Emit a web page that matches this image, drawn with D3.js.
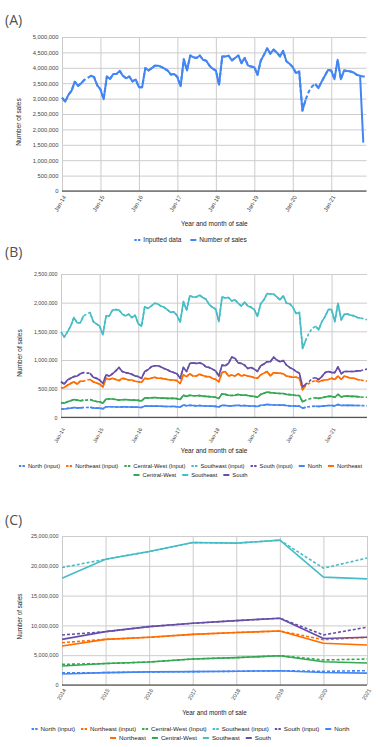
<!DOCTYPE html>
<html>
<head>
<meta charset="utf-8">
<script src="https://cdn.jsdelivr.net/npm/d3@7"></script>
<style>
  body { margin: 0; background: #fff; }
  svg { display: block; font-family: "Liberation Sans", Arial, sans-serif; }
</style>
</head>
<body>
<script>
// ---- data ----
const monthLabels = ["Jan-14", "Jan-15", "Jan-16", "Jan-17", "Jan-18", "Jan-19", "Jan-20", "Jan-21"];
const years = ["2014", "2015", "2016", "2017", "2018", "2019", "2020", "2021"];

// (A) total monthly sales, millions, Jan-14 .. Dec-21 (null = missing month)
const salesA = [
  3.03, 2.90, 3.12, 3.26, 3.55, 3.41, 3.50, 3.61, null, 3.74, 3.70, 3.43,
  3.30, 2.98, 3.72, 3.64, 3.80, 3.80, 3.90, 3.74, 3.66, 3.72, 3.56, 3.62,
  3.37, 3.37, 3.99, 3.91, 3.99, 4.07, 4.07, 4.03, 3.97, 3.91, 3.78, 3.80,
  3.70, 3.40, 4.28, 3.91, 4.40, 4.34, 4.32, 4.40, 4.26, 4.23, 4.07, 3.97,
  3.91, 3.45, 4.37, 4.37, 4.39, 4.24, 4.32, 4.40, 4.15, 4.32, 4.08, 4.04,
  4.02, 3.77, 4.23, 4.42, 4.63, 4.46, 4.59, 4.50, 4.37, 4.55, 4.21, 4.13,
  4.02, 3.83, 3.88, 2.61, 2.96, null, null, 3.48, 3.34, 3.55, 3.74, 3.93,
  3.91, 3.63, 4.26, 3.63, 3.91, 3.90, 3.88, 3.85, 3.77, 3.74, 1.57, null
];
const gapMonthsA = [8, 77, 78, 94, 95];
const inputA = [3.67, 3.23, 3.39, 3.72, 3.71];

// (B) monthly sales by region, thousands
const northB = [
  145, 145, 155, 160, 170, 165, 165, 170, null, 175, 165, 160,
  160, 150, 185, 185, 185, 180, 180, 182, 183, 180, 178, 178,
  175, 170, 198, 195, 195, 198, 195, 193, 190, 188, 188, 190,
  185, 178, 215, 200, 210, 205, 200, 205, 200, 198, 195, 195,
  190, 180, 210, 205, 200, 200, 205, 210, 200, 205, 200, 198,
  195, 188, 210, 215, 225, 220, 215, 215, 212, 212, 205, 200,
  198, 195, 195, 160, 175, null, null, 195, 188, 195, 200, 205,
  205, 200, 225, 205, 210, 208, 208, 207, 205, 205, null, null
];
const northeastB = [
  510, 520, 560, 590, 620, 580, 630, 630, null, 660, 620, 600,
  580, 530, 680, 660, 680, 660, 640, 680, 670, 650, 650, 630,
  620, 610, 680, 670, 680, 700, 680, 680, 670, 660, 650, 650,
  640, 590, 740, 710, 760, 720, 720, 750, 730, 710, 710, 680,
  660, 620, 780, 800, 720, 740, 720, 760, 720, 740, 720, 710,
  690, 680, 740, 770, 800, 720, 780, 770, 770, 760, 720, 710,
  700, 700, 680, 480, 560, null, null, 640, 620, 640, 650, 660,
  680, 660, 720, 660, 720, 700, 680, 680, 660, 650, null, null
];
const centralWestB = [
  256, 245, 270, 290, 310, 300, 290, 300, null, 310, 290, 275,
  270, 245, 320, 320, 320, 310, 300, 305, 310, 305, 300, 300,
  295, 285, 340, 335, 340, 345, 340, 335, 335, 330, 330, 330,
  325, 310, 385, 365, 385, 375, 375, 380, 370, 365, 360, 355,
  350, 330, 410, 400, 385, 380, 385, 400, 385, 390, 380, 370,
  365, 350, 400, 420, 440, 430, 425, 420, 415, 415, 400, 395,
  390, 380, 380, 270, 300, null, null, 340, 330, 340, 355, 365,
  365, 350, 400, 355, 370, 370, 365, 365, 360, 355, null, null
];
const southeastB = [
  1490, 1400, 1490, 1590, 1740, 1650, 1650, 1770, null, 1830, 1670, 1630,
  1590, 1440, 1770, 1770, 1870, 1880, 1870, 1800, 1770, 1800, 1740, 1780,
  1630, 1590, 1930, 1900, 1940, 1990, 1980, 1940, 1920, 1880, 1830, 1840,
  1780, 1660, 2020, 1870, 2120, 2100, 2100, 2130, 2090, 2060, 1970, 1920,
  1890, 1670, 2100, 2080, 2090, 2030, 2050, 1990, 1940, 2010, 1940, 1920,
  1880, 1760, 1980, 2050, 2160, 2150, 2150, 2100, 2050, 2120, 1990, 1980,
  1920, 1810, 1830, 1200, 1350, null, null, 1590, 1530, 1670, 1760, 1880,
  1880, 1670, 1990, 1700, 1800, 1800, 1780, 1770, 1740, 1730, null, null
];
const southB = [
  620, 580, 650, 680, 710, 720, 760, 780, null, 770, 700, 680,
  650, 590, 740, 720, 760, 810, 870, 800, 780, 770, 750, 720,
  710, 680, 800, 830, 880, 900, 900, 880, 850, 830, 800, 780,
  760, 680, 870, 800, 940, 950, 940, 950, 930, 880, 870, 840,
  810, 720, 910, 900, 940, 1050, 1030, 950, 940, 910, 850, 870,
  840, 800, 900, 930, 970, 970, 1050, 1000, 970, 990, 910, 870,
  840, 800, 770, 530, 580, null, null, 690, 660, 710, 780, 800,
  780, 780, 880, 760, 800, 800, 800, 800, 810, 810, null, null
];
const gapMonthsB = [8, 77, 78, 94, 95];
const northInputB = [170, 185, 190, 203, 200];
const northeastInputB = [650, 590, 620, 640, 630];
const centralWestInputB = [300, 320, 335, 350, 350];
const southeastInputB = [1800, 1470, 1550, 1720, 1700];
const southInputB = [770, 620, 680, 830, 840];

// (C) yearly sales by region, millions
const northC = [1.85, 2.07, 2.20, 2.24, 2.30, 2.40, 2.10, 2.00];
const northeastC = [6.55, 7.66, 8.00, 8.50, 8.80, 9.06, 7.00, 6.70];
const centralWestC = [3.20, 3.60, 3.86, 4.36, 4.59, 4.92, 3.90, 3.70];
const southeastC = [17.9, 21.1, 22.4, 23.9, 23.8, 24.3, 18.1, 17.8];
const southC = [7.66, 8.95, 9.80, 10.35, 10.80, 11.20, 7.80, 8.00];
const northInputC = [2.05, 2.07, 2.20, 2.24, 2.30, 2.40, 2.30, 2.40];
const northeastInputC = [7.10, 7.66, 8.00, 8.50, 8.80, 9.06, 7.60, 8.00];
const centralWestInputC = [3.47, 3.60, 3.86, 4.36, 4.59, 4.92, 4.20, 4.36];
const southeastInputC = [19.7, 21.1, 22.4, 23.9, 23.8, 24.3, 19.6, 21.3];
const southInputC = [8.40, 8.95, 9.80, 10.35, 10.80, 11.20, 8.40, 9.70];

const regionNames = ["North", "Northeast", "Central-West", "Southeast", "South"];
const inputNames = ["North (input)", "Northeast (input)", "Central-West (Input)", "Southeast (input)", "South (input)"];
const regionColors = ["#4285f4", "#ff6d01", "#34a853", "#46bdc6", "#674ea7"];

// ---- helpers ----
const W = 381, H = 747;
const svg = d3.select("body").append("svg").attr("width", W).attr("height", H);

// put imputed values into the gaps of a series
function withInputs(series, gaps, vals) {
  const out = series.slice();
  gaps.forEach((m, k) => { out[m] = vals[k]; });
  return out;
}

function drawPanel(p) {
  const g = svg.append("g");
  const x = d3.scaleLinear().domain([0, p.n - 1]).range([p.left, p.right]);
  const y = d3.scaleLinear().domain([0, p.yMax]).range([p.bottom, p.top]);

  // panel letter
  g.append("text").attr("x", 5).attr("y", p.letterY)
    .style("font-family", "'Open Sans', sans-serif")
    .style("font-size", "14px").style("fill", "#505050").text(p.letter);

  // horizontal grid + y labels
  const yAxis = g.append("g").attr("transform", `translate(${p.left},0)`)
    .call(d3.axisLeft(y).tickValues(d3.range(0, p.yMax + p.yStep / 2, p.yStep))
      .tickSize(-(p.right - p.left)).tickPadding(3.5)
      .tickFormat(v => d3.format(",")(Math.round(v * p.unit))));
  yAxis.select(".domain").remove();
  yAxis.selectAll("line").attr("stroke", "#cccccc");
  yAxis.selectAll("text").style("font-size", p.tickFont + "px").attr("fill", "#444");

  // vertical grid + x labels
  const xAxis = g.append("g").attr("transform", `translate(0,${p.bottom})`)
    .call(d3.axisBottom(x).tickValues(p.xTicks)
      .tickSize(-(p.bottom - p.top)).tickFormat((d, i) => p.xLabels[i]));
  xAxis.select(".domain").remove();
  xAxis.selectAll("line").attr("stroke", "#cccccc");
  xAxis.selectAll("text")
    .style("font-size", p.xTickFont + "px").attr("fill", "#444")
    .attr("text-anchor", "end")
    .attr("y", 0).attr("dy", "0.35em")
    .attr("transform", `translate(2,${p.xLabelOffset}) rotate(-60)`);

  // baseline
  g.append("line").attr("x1", p.left).attr("x2", p.right)
    .attr("y1", p.bottom).attr("y2", p.bottom).attr("stroke", "#333").attr("stroke-width", 1);

  // series
  const line = d3.line().defined(d => d != null).x((d, i) => x(i)).y(d => y(d));
  p.series.forEach(s => {
    g.append("path").datum(s.values)
      .attr("fill", "none").attr("stroke", s.color)
      .attr("stroke-width", p.lineWidth)
      .attr("stroke-linejoin", "round")
      .attr("stroke-dasharray", s.dashed ? p.dash : null)
      .attr("d", line);
  });

  // axis titles
  g.append("text").attr("x", (p.left + p.right) / 2).attr("y", p.xTitleY)
    .attr("text-anchor", "middle").style("font-size", p.titleFont + "px").attr("fill", "#222")
    .text("Year and month of sale");
  g.append("text").attr("transform", `translate(${p.yTitleX},${p.yTitleY}) rotate(-90)`)
    .attr("text-anchor", "middle").attr("dy", "0.35em")
    .style("font-size", p.titleFont + "px").attr("fill", "#222")
    .text("Number of sales");

  // legend, centred rows
  const rows = [p.series.slice(0, p.legendBreak), p.series.slice(p.legendBreak)];
  rows.forEach((row, r) => {
    if (!row.length) return;
    const lg = g.append("g");
    let cx = 0;
    row.forEach(s => {
      const it = lg.append("g").attr("transform", `translate(${cx},0)`);
      it.append("line").attr("x1", 0).attr("x2", 6).attr("y1", 0).attr("y2", 0)
        .attr("stroke", s.color).attr("stroke-width", 2)
        .attr("stroke-dasharray", s.dashed ? "2.4,1.2" : null);
      const t = it.append("text").attr("x", 9).attr("dy", "0.35em")
        .style("font-size", p.legendFont + "px").attr("fill", "#222").text(s.name);
      cx += 9 + t.node().getComputedTextLength() + p.legendGap;
    });
    const wdt = cx - p.legendGap;
    lg.attr("transform", `translate(${190.5 - wdt / 2},${p.legendY + r * p.legendRowH})`);
  });
}

// ---- panel A ----
drawPanel({
  letter: "(A)", letterY: 25, n: 96,
  left: 62, right: 366.5, top: 37, bottom: 191,
  yMax: 5, yStep: 0.5, unit: 1e6,
  xTicks: d3.range(0, 96, 12), xLabels: monthLabels, xLabelOffset: 5,
  tickFont: 5.8, xTickFont: 5.8, titleFont: 6.5, legendFont: 6.5,
  lineWidth: 2, dash: "4,2.5",
  xTitleY: 226, yTitleX: 19, yTitleY: 122,
  legendY: 240, legendRowH: 9, legendGap: 9, legendBreak: 2,
  series: [
    { name: "Inputted data", color: "#4285f4", dashed: true, values: withInputs(salesA, gapMonthsA, inputA) },
    { name: "Number of sales", color: "#4285f4", dashed: false, values: salesA }
  ]
});

// ---- panel B ----
const regB = [northB, northeastB, centralWestB, southeastB, southB];
const inpB = [northInputB, northeastInputB, centralWestInputB, southeastInputB, southInputB];
drawPanel({
  letter: "(B)", letterY: 257, n: 96,
  left: 61, right: 367, top: 274, bottom: 417.3,
  yMax: 2500, yStep: 500, unit: 1e3,
  xTicks: d3.range(0, 96, 12), xLabels: monthLabels, xLabelOffset: 11,
  tickFont: 5.3, xTickFont: 5.3, titleFont: 6.5, legendFont: 5.8,
  lineWidth: 1.6, dash: "3,2",
  xTitleY: 453, yTitleX: 20, yTitleY: 353,
  legendY: 466, legendRowH: 9, legendGap: 6, legendBreak: 7,
  series: inputNames.map((nm, k) => ({ name: nm, color: regionColors[k], dashed: true, values: withInputs(regB[k], gapMonthsB, inpB[k]) }))
    .concat(regionNames.map((nm, k) => ({ name: nm, color: regionColors[k], dashed: false, values: regB[k] })))
});

// ---- panel C ----
const regC = [northC, northeastC, centralWestC, southeastC, southC];
const inpC = [northInputC, northeastInputC, centralWestInputC, southeastInputC, southInputC];
drawPanel({
  letter: "(C)", letterY: 525, n: 8,
  left: 62, right: 367, top: 536, bottom: 685,
  yMax: 25, yStep: 5, unit: 1e6,
  xTicks: d3.range(0, 8), xLabels: years, xLabelOffset: 4,
  tickFont: 5.5, xTickFont: 5.5, titleFont: 6.3, legendFont: 6.2,
  lineWidth: 1.6, dash: "3,2",
  xTitleY: 715, yTitleX: 20, yTitleY: 616.5,
  legendY: 729, legendRowH: 9, legendGap: 6, legendBreak: 6,
  series: inputNames.map((nm, k) => ({ name: nm, color: regionColors[k], dashed: true, values: inpC[k] }))
    .concat(regionNames.map((nm, k) => ({ name: nm, color: regionColors[k], dashed: false, values: regC[k] })))
});
</script>
</body>
</html>
